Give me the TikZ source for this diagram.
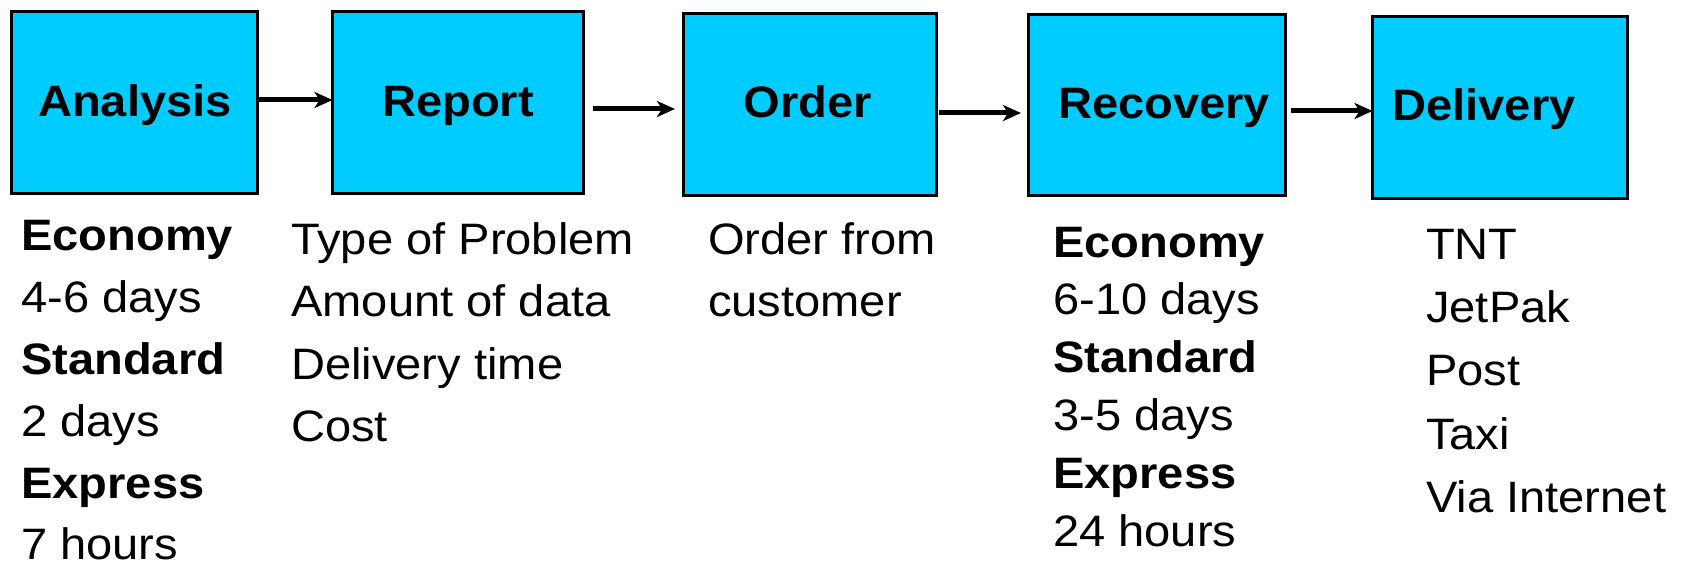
\documentclass[tikz,border=0pt]{standalone}
\usepackage{fontspec}
\setmainfont[FakeStretch=1.07]{Liberation Sans}
\usetikzlibrary{arrows.meta}
\definecolor{boxcyan}{HTML}{00CCFF}
\begin{document}
\begin{tikzpicture}[x=1pt,y=-1pt,
  box/.style={draw=black, line width=3.5pt, fill=boxcyan, inner sep=0pt, outer sep=0pt},
  boxlabel/.style={anchor=base, font=\fontsize{44}{53}\selectfont\bfseries, inner sep=0pt},
  item/.style={anchor=base west, font=\fontsize{44}{53}\selectfont, inner sep=0pt},
  bitem/.style={anchor=base west, font=\fontsize{44}{53}\selectfont\bfseries, inner sep=0pt},
  arr/.style={line width=5pt, -{Stealth[length=18pt,width=16pt,inset=5pt]}}]
\useasboundingbox (0,0) rectangle (1687,567);
% boxes
\node[box, minimum width=246pt, minimum height=182pt] (A) at (134.5,102.5) {};
\node[box, minimum width=251pt, minimum height=182pt] (R) at (458,102.5) {};
\node[box, minimum width=253pt, minimum height=182pt] (O) at (810,104.5) {};
\node[box, minimum width=257pt, minimum height=181pt] (Rc) at (1157,105) {};
\node[box, minimum width=255pt, minimum height=182pt] (D) at (1500,107.5) {};
% box labels
\node[boxlabel] (Alab) at (135,117) {Analysis};
\node[boxlabel] (Rlab) at (458,117) {Report};
\node[boxlabel] (Olab) at (808,118) {Order};
\node[boxlabel] (Rclab) at (1164,119) {Recovery};
\node[boxlabel] (Dlab) at (1484,121) {Delivery};
% arrows
\draw[arr] ([yshift=2.5pt]A.east) -- ([yshift=2.5pt]R.west);
\draw[arr, shorten <=9.5pt, shorten >=8.5pt] ([yshift=-6.5pt]R.east) -- ([yshift=-4.5pt]O.west);
\draw[arr, shorten <=2.5pt, shorten >=7.5pt] ([yshift=-8.5pt]O.east) -- ([yshift=-8pt]Rc.west);
\draw[arr, shorten <=5.5pt] ([yshift=-6pt]Rc.east) -- ([yshift=-3.5pt]D.west);
% Analysis column
\node[bitem] (a1) at (21,250) {Economy};
\node[item]  (a2) at (21,312) {4-6 days};
\node[bitem] (a3) at (21,374) {Standard};
\node[item]  (a4) at (21,436) {2 days};
\node[bitem] (a5) at (21,498) {Express};
\node[item]  (a6) at (21,559) {7 hours};
% Report column
\node[item] (r1) at (291,254) {Type of Problem};
\node[item] (r2) at (291,316.6) {Amount of data};
\node[item] (r3) at (291,379.2) {Delivery time};
\node[item] (r4) at (291,441.8) {Cost};
% Order column
\node[item] (o1) at (708,254) {Order from};
\node[item] (o2) at (708,316.6) {customer};
% Recovery column
\node[bitem] (c1) at (1053,257) {Economy};
\node[item]  (c2) at (1053,314.8) {6-10 days};
\node[bitem] (c3) at (1053,372.6) {Standard};
\node[item]  (c4) at (1053,430.4) {3-5 days};
\node[bitem] (c5) at (1053,488.2) {Express};
\node[item]  (c6) at (1053,546) {24 hours};
% Delivery column
\node[item] (d1) at (1426,259) {TNT};
\node[item] (d2) at (1426,322.4) {JetPak};
\node[item] (d3) at (1426,385.7) {Post};
\node[item] (d4) at (1426,449) {Taxi};
\node[item] (d5) at (1426,512.4) {Via Internet};
\end{tikzpicture}
\end{document}
